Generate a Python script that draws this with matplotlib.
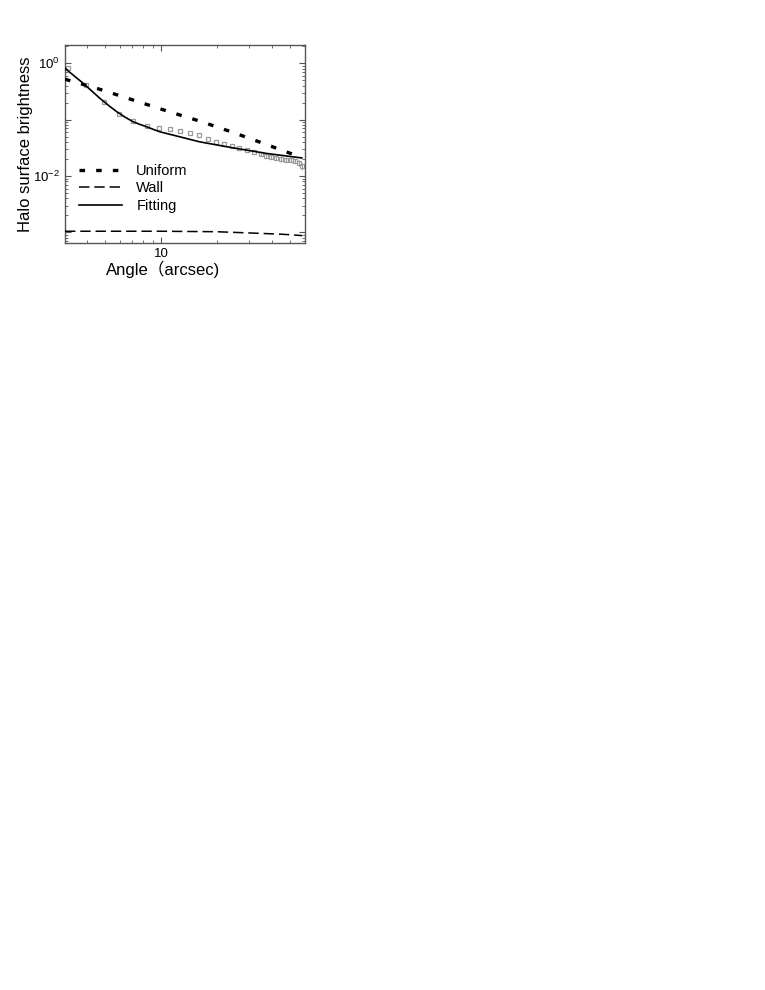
import matplotlib
matplotlib.use("Agg")
import matplotlib.pyplot as plt
from matplotlib.ticker import FixedLocator, FixedFormatter, LogLocator, NullFormatter

plt.rcParams['font.family'] = ['Liberation Sans', 'Noto Sans CJK SC', 'DejaVu Sans']
plt.rcParams['mathtext.fontset'] = 'custom'
plt.rcParams['mathtext.rm'] = 'Liberation Sans'
plt.rcParams['mathtext.it'] = 'Liberation Sans'
plt.rcParams['lines.scale_dashes'] = False

# Observed halo data (angle in arcsec, brightness)
obs_x = [3.13, 3.94, 4.94, 5.96, 7.08, 8.37, 9.79, 11.2, 12.7, 14.4, 16.0, 18.0, 19.8, 21.9,
         24.1, 26.5, 29.0, 31.8, 34.6, 37.0, 39.2, 41.9, 44.6, 47.4, 50.2, 53.2, 56.0, 57.8]
obs_y = [0.815, 0.411, 0.207, 0.125, 0.0953, 0.0766, 0.0697, 0.0669, 0.0632, 0.0582, 0.0523,
         0.0444, 0.0398, 0.0366, 0.0337, 0.0315, 0.0295, 0.0267, 0.0246, 0.0227, 0.0218,
         0.0209, 0.0198, 0.0196, 0.0193, 0.0185, 0.0170, 0.0149]
obs_err = [0, 0, 0, 0, 0, 0, 0, 0, 0, 0, 0, 0, 0, 0, 0, 0, 0, 0, 0.0015, 0.0018, 0.0018,
           0.0018, 0.0018, 0.0018, 0.0018, 0.0018, 0.0020, 0.0022]

# Model curves
uni_x = [3.03, 4.68, 7.08, 10.7, 16.2, 24.6, 37.3, 57.7]
uni_y = [0.52, 0.344, 0.222, 0.143, 0.094, 0.059, 0.036, 0.0212]

wall_x = [3.03, 10.0, 20.0, 30.0, 45.0, 58.0]
wall_y = [1.05e-3, 1.05e-3, 1.03e-3, 0.98e-3, 0.93e-3, 0.88e-3]

fit_x = [3.03, 3.43, 3.8, 4.22, 4.68, 5.19, 5.77, 6.38, 7.08, 7.7, 8.37, 9.1, 9.88, 12.5,
         16.2, 24.6, 37.3, 57.7]
fit_y = [0.81, 0.58, 0.44, 0.323, 0.238, 0.180, 0.138, 0.111, 0.0914, 0.082, 0.0746, 0.067,
         0.0607, 0.050, 0.0403, 0.0315, 0.0251, 0.0209]

x_lim = (3.03, 60.0)
y_lim = (6.5e-4, 2.1)
y_major = [1e-3, 1e-2, 1e-1, 1e0]
y_labels = ['', '$10^{-2}$', '', '$10^{0}$']

fig = plt.figure(figsize=(7.65, 9.9), dpi=100)
ax = fig.add_axes([65/765, 1 - 243/990, 240/765, 198/990])

ax.errorbar(obs_x, obs_y, yerr=obs_err, fmt='s', ms=2.8, mfc='none', mec='#999999',
            mew=0.9, ecolor='#999999', elinewidth=0.7, capsize=0, zorder=2)
ax.plot(uni_x, uni_y, color='black', lw=2.4, dashes=(4, 8), label='Uniform', zorder=3)
ax.plot(wall_x, wall_y, color='black', lw=1.1, dashes=(7.5, 3.5), label='Wall', zorder=3)
ax.plot(fit_x, fit_y, color='black', lw=1.2, label='Fitting', zorder=3)

ax.set_xscale('log')
ax.set_yscale('log')
ax.set_xlim(*x_lim)
ax.set_ylim(*y_lim)

ax.xaxis.set_major_locator(FixedLocator([10]))
ax.xaxis.set_major_formatter(FixedFormatter(['10']))
ax.xaxis.set_minor_locator(LogLocator(base=10, subs=range(2, 10)))
ax.xaxis.set_minor_formatter(NullFormatter())
ax.yaxis.set_major_locator(FixedLocator(y_major))
ax.yaxis.set_major_formatter(FixedFormatter(y_labels))
ax.yaxis.set_minor_locator(LogLocator(base=10, subs=range(2, 10)))
ax.yaxis.set_minor_formatter(NullFormatter())

for s in ax.spines.values():
    s.set_color('#555555')
    s.set_linewidth(1.0)
ax.tick_params(which='both', direction='in', top=True, right=True, colors='#555555',
               labelcolor='black', labelsize=9.5)
ax.tick_params(which='major', length=4, width=0.8)
ax.tick_params(which='minor', length=2, width=0.6)

ax.set_xlabel('Angle（arcsec)', fontsize=12)
ax.xaxis.set_label_coords((163.5 - 65) / 240, -0.09)
ax.set_ylabel('Halo surface brightness', fontsize=12)
ax.yaxis.set_label_coords((33 - 65) / 240, 0.5)

ax.legend(loc='upper left', bbox_to_anchor=(0.06, 0.40), frameon=False, fontsize=10.5,
          handlelength=2.9, handletextpad=1.0, labelspacing=0.25, borderpad=0,
          borderaxespad=0)

fig.savefig('out.png', dpi=100)
